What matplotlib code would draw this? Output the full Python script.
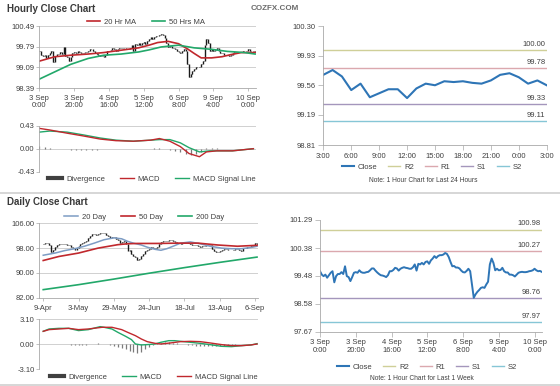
import numpy as np
import matplotlib.pyplot as plt
from matplotlib.lines import Line2D

plt.rcParams['font.family'] = ['Liberation Sans', 'DejaVu Sans']
plt.rcParams['font.size'] = 5.5

# ---------------- data ----------------
week_labels = ['3 Sep\n0:00', '3 Sep\n20:00', '4 Sep\n16:00', '5 Sep\n12:00',
               '6 Sep\n8:00', '9 Sep\n4:00', '10 Sep\n0:00']
week_close = [99.63, 99.52, 99.47, 99.52, 99.42, 99.50, 99.58, 99.63, 99.27, 99.47,
              99.54, 99.54, 99.60, 99.54, 99.79, 99.47, 99.44, 99.31, 99.44, 99.58,
              99.60, 99.58, 99.66, 99.60, 99.58, 99.58, 99.60, 99.61, 99.66, 99.72,
              99.72, 99.65, 99.59, 99.54, 99.50, 99.49, 99.47, 99.44, 99.50, 99.63,
              99.63, 99.67, 99.74, 99.72, 99.65, 99.71, 99.74, 99.76, 99.74, 99.73,
              99.71, 99.71, 99.76, 99.85, 99.65, 99.87, 99.85, 99.90, 99.85, 99.93,
              99.95, 99.87, 99.98, 100.04, 100.12, 100.06, 100.12, 100.15, 100.15, 100.17,
              100.22, 100.19, 100.09, 99.93, 99.79, 99.80, 99.75, 99.75, 99.72, 99.65,
              99.60, 99.59, 99.64, 99.71, 99.63, 99.20, 98.77, 98.88, 98.96, 99.02,
              99.09, 99.11, 99.09, 99.20, 99.29, 99.85, 100.04, 99.90, 99.66, 99.71,
              99.66, 99.67, 99.74, 99.63, 99.59, 99.59, 99.52, 99.52, 99.50, 99.46,
              99.52, 99.58, 99.60, 99.61, 99.60, 99.60, 99.61, 99.63, 99.64, 99.66,
              99.71, 99.66, 99.63, 99.64, 99.61]

ma20_x = [0, 9, 18, 28, 37, 47, 57, 63, 68, 74, 80, 85, 89, 93, 99, 105, 110, 116, 124]
ma20 = [99.30, 99.45, 99.50, 99.54, 99.59, 99.67, 99.75, 99.84, 99.93, 99.97,
        99.89, 99.72, 99.56, 99.41, 99.41, 99.45, 99.52, 99.59, 99.59]
ma50_x = [0, 9, 18, 28, 37, 47, 57, 63, 70, 80, 89, 99, 108, 118, 124]
ma50 = [98.69, 98.94, 99.19, 99.39, 99.50, 99.54, 99.61, 99.68, 99.78, 99.84,
        99.75, 99.70, 99.63, 99.59, 99.54]

hmacd_x = [0, 6, 16, 25, 35, 44, 54, 64, 69, 75, 81, 86, 92, 96, 102, 111, 123]
hmacd = [0.38, 0.35, 0.29, 0.24, 0.18, 0.15, 0.14, 0.16, 0.19, 0.14, 0.04,
         -0.09, -0.15, -0.06, -0.04, -0.04, 0.00]
hsig_x = [0, 6, 16, 25, 35, 44, 54, 64, 69, 75, 81, 86, 92, 98, 111, 123]
hsig = [0.31, 0.33, 0.31, 0.26, 0.20, 0.16, 0.14, 0.16, 0.17, 0.17, 0.11,
        0.02, -0.06, -0.04, -0.04, 0.00]
hdiv_x = list(range(0, 124, 3))
hdiv = [0.05, 0.03, 0.01, 0.00, -0.01, -0.01, -0.02, -0.02, -0.02, -0.02, -0.02,
        -0.02, -0.01, -0.01, -0.01, 0.00, 0.00, 0.00, 0.00, 0.00, 0.00, 0.00,
        0.01, 0.01, -0.01, -0.03, -0.05, -0.07, -0.09, -0.11, -0.10, -0.07,
        0.02, 0.02, 0.01, 0.00, 0.00, 0.00, 0.00, 0.00, 0.00, 0.00]

h24_labels = ['3:00', '6:00', '9:00', '12:00', '15:00', '18:00', '21:00', '0:00', '3:00']
h24_close = [99.69, 99.75, 99.67, 99.50, 99.58, 99.41, 99.46, 99.51, 99.51, 99.40,
             99.52, 99.58, 99.56, 99.61, 99.60, 99.61, 99.59, 99.58, 99.62, 99.69,
             99.71, 99.66, 99.58, 99.62, 99.56]

lvl_names = ['R2', 'R1', 'S1', 'S2']
h24_lvls = [100.00, 99.78, 99.33, 99.11]
week_lvls = [100.98, 100.27, 98.76, 97.97]

day_labels = ['9-Apr', '3-May', '29-May', '24-Jun', '18-Jul', '13-Aug', '6-Sep']
day_close = [99.3, 99.6, 99.5, 99.0, 96.9, 97.5, 98.4, 98.9, 99.3, 99.4,
             99.4, 99.3, 99.1, 98.9, 98.4, 97.9, 97.5, 98.0, 98.6, 99.3,
             99.6, 99.9, 100.2, 101.3, 101.9, 102.4, 102.5, 102.3, 102.5, 102.8,
             102.9, 102.9, 102.3, 101.8, 101.1, 101.5, 101.6, 100.9, 100.7, 99.8,
             100.0, 100.2, 99.4, 97.0, 97.5, 96.0, 95.6, 95.0, 94.3, 94.6,
             95.3, 96.2, 97.2, 97.5, 97.6, 98.2, 98.0, 97.9, 98.5, 99.4,
             100.0, 100.2, 100.3, 100.4, 100.7, 100.6, 100.3, 100.0, 99.8, 99.6,
             99.3, 99.8, 100.1, 99.9, 99.7, 99.4, 99.1, 99.1, 99.1, 98.6,
             98.3, 98.6, 98.6, 98.9, 99.1, 98.9, 97.8, 97.1, 96.9, 96.6,
             97.2, 97.5, 97.8, 97.8, 97.5, 97.5, 97.5, 97.5, 97.8, 97.6,
             97.4, 97.1, 98.0, 98.1, 98.2, 98.5, 98.8, 99.1, 99.6, 99.3]

d20_x = [0, 6, 11, 16, 21, 26, 31, 36, 40, 43, 46, 50, 53, 57, 60, 63, 67, 70, 75,
         80, 85, 91, 96, 101, 106, 109]
d20 = [95.7, 96.4, 97.2, 97.8, 98.6, 99.6, 100.7, 101.3, 101.0, 100.2, 99.6, 99.0,
       98.3, 97.6, 97.3, 97.8, 98.8, 99.6, 100.0, 99.4, 98.6, 98.0, 97.8, 97.8,
       98.2, 98.6]
d50_x = [0, 8, 18, 28, 38, 43, 48, 58, 69, 79, 89, 99, 109]
d50 = [94.0, 95.3, 96.4, 98.0, 99.1, 99.4, 99.5, 99.5, 99.6, 99.6, 99.0, 98.6, 98.9]
d200_x = [0, 18, 36, 54, 72, 90, 109]
d200 = [84.6, 86.2, 88.0, 89.9, 91.7, 93.4, 95.1]

dmacd_x = [0, 3, 8, 13, 18, 23, 29, 31, 35, 38, 42, 45, 47, 50, 53, 57, 60, 64,
           67, 70, 75, 80, 85, 91, 96, 101, 106, 109]
dmacd = [1.61, 1.90, 1.98, 1.98, 1.70, 1.82, 2.19, 2.11, 1.90, 1.49, 0.99, 0.58,
         0.04, -0.08, -0.04, 0.04, 0.25, 0.45, 0.45, 0.37, 0.25, 0.12, -0.04,
         -0.25, -0.29, -0.17, -0.08, 0.08]
dsig_x = [0, 3, 8, 13, 18, 23, 30, 35, 40, 43, 47, 50, 53, 57, 60, 65, 70, 75,
          80, 85, 91, 96, 101, 106, 109]
dsig = [1.61, 1.82, 1.90, 1.98, 1.82, 1.90, 2.11, 2.11, 1.82, 1.49, 1.07, 0.66,
        0.33, 0.12, 0.04, 0.17, 0.33, 0.37, 0.33, 0.17, -0.04, -0.17, -0.17,
        -0.08, 0.04]
ddiv_x = list(range(0, 110, 2))
ddiv = [0.0, 0.05, 0.07, 0.07, 0.05, 0.02, 0.0, -0.05, -0.1, -0.12, -0.1, -0.05,
        0.0, 0.05, 0.1, 0.08, 0.05, -0.1, -0.2, -0.35, -0.5, -0.6, -0.8, -0.95,
        -1.05, -0.9, -0.6, -0.35, -0.1, 0.1, 0.2, 0.25, 0.25, 0.22, 0.15, 0.05,
        0.0, -0.05, -0.1, -0.15, -0.2, -0.2, -0.2, -0.2, -0.2, -0.2, -0.15,
        -0.12, -0.1, -0.05, 0.0, 0.0, 0.0, 0.05, 0.05]

# ---------------- style ----------------
RED = '#c0282d'
GREEN = '#22a86a'
BLUE20 = '#7d9cc4'
CLOSE = '#2e75b6'
LVL_COL = ['#cfcf98', '#dba8ae', '#a496bc', '#86c6d6']
SPINE = '#a8a8a8'
GRID = '#c9c9c9'
TXT = '#404040'

W, H = 560, 386
fig = plt.figure(figsize=(W / 100, H / 100), dpi=100)


def rect(x0, y0, x1, y1):
    return [x0 / W, 1 - y1 / H, (x1 - x0) / W, (y1 - y0) / H]


def fpos(x, y):
    return (x / W, 1 - y / H)


def style(ax, grid=True):
    for s in ['top', 'right']:
        ax.spines[s].set_visible(False)
    for s in ['left', 'bottom']:
        ax.spines[s].set_color(SPINE)
        ax.spines[s].set_linewidth(0.6)
    if grid:
        ax.yaxis.grid(True, color=GRID, lw=0.6)
        ax.set_axisbelow(True)
    ax.tick_params(colors=SPINE, labelcolor=TXT, labelsize=5.5, length=2,
                   width=0.5, pad=1.5)


def bars(ax, x, c, color='#1a1a1a'):
    # open = previous close, so each bar spans prev close -> close
    c = np.asarray(c)
    prev = np.concatenate([[c[0]], c[:-1]])
    ax.vlines(x, np.minimum(prev, c), np.maximum(prev, c), color=color, lw=1.0)
    ax.hlines(c, x, np.asarray(x) + 0.45, color=color, lw=0.5)


def legend(ax, handles, labels, x, y, hl=1.8, cs=2.0):
    ax.legend(handles, labels, loc='center', bbox_to_anchor=fpos(x, y),
              bbox_transform=fig.transFigure, ncol=len(labels), frameon=False,
              handlelength=hl, columnspacing=cs, handletextpad=0.5,
              borderpad=0, fontsize=5.5, labelcolor=TXT)


# ---------------- hourly price (top left) ----------------
ax_hp = fig.add_axes(rect(39.3, 26, 256, 88))
style(ax_hp)
wx = np.arange(len(week_close))
bars(ax_hp, wx, week_close)
ax_hp.plot(ma20_x, ma20, color=RED, lw=1.2)
ax_hp.plot(ma50_x, ma50, color=GREEN, lw=1.2)
ax_hp.set_xlim(0, 124.5)
ax_hp.set_ylim(98.39, 100.49)
ax_hp.set_yticks([98.39, 99.09, 99.79, 100.49])
ax_hp.set_yticklabels(['98.39', '99.09', '99.79', '100.49'])
ax_hp.set_xticks(range(0, 121, 20))
ax_hp.set_xticklabels(week_labels, linespacing=1.1)
ax_hp.tick_params(axis='x', pad=3)
legend(ax_hp, [Line2D([], [], color=RED, lw=1.2), Line2D([], [], color=GREEN, lw=1.2)],
       ['20 Hr MA', '50 Hrs MA'], 146, 22)

# ---------------- hourly MACD ----------------
ax_hm = fig.add_axes(rect(39.3, 125.7, 256, 171.7))
style(ax_hm)
ax_hm.spines['bottom'].set_visible(False)
ax_hm.vlines(hdiv_x, 0, hdiv, color='#7a7a7a', lw=0.9)
ax_hm.plot(hsig_x, hsig, color=GREEN, lw=1.0)
ax_hm.plot(hmacd_x, hmacd, color=RED, lw=1.0)
ax_hm.set_xlim(0, 124.5)
ax_hm.set_ylim(-0.43, 0.43)
ax_hm.set_yticks([-0.43, 0, 0.43])
ax_hm.set_yticklabels(['-0.43', '0.00', '0.43'])
ax_hm.set_xticks([])
legend(ax_hm, [Line2D([], [], color='#404040', lw=3), Line2D([], [], color=RED, lw=1),
               Line2D([], [], color=GREEN, lw=1)],
       ['Divergence', 'MACD', 'MACD Signal Line'], 152, 179)

# ---------------- last 24 hours (top right) ----------------
ax_24 = fig.add_axes(rect(323.3, 26, 546.7, 145.3))
style(ax_24, grid=False)
ax_24.tick_params(length=3.5, pad=2)
lvl_h = []
for name, v, col in zip(lvl_names, h24_lvls, LVL_COL):
    ax_24.axhline(v, color=col, lw=1.0)
    ax_24.annotate('%.2f' % v, (24, v), xytext=(-1, 1.5), textcoords='offset points',
                   ha='right', va='bottom', fontsize=5.5, color=TXT)
    lvl_h.append(Line2D([], [], color=col, lw=1.0))
ax_24.plot(np.arange(len(h24_close)), h24_close, color=CLOSE, lw=1.5)
ax_24.set_xlim(0, 24)
ax_24.set_ylim(98.81, 100.30)
ax_24.set_yticks([98.81, 99.19, 99.56, 99.93, 100.30])
ax_24.set_yticklabels(['98.81', '99.19', '99.56', '99.93', '100.30'])
ax_24.set_xticks(range(0, 25, 3))
ax_24.set_xticklabels(h24_labels)
legend(ax_24, [Line2D([], [], color=CLOSE, lw=1.5)] + lvl_h, ['Close'] + lvl_names,
       432, 167, hl=1.6, cs=1.4)
fig.text(*fpos(423, 180), 'Note: 1 Hour Chart for Last 24 Hours', ha='center',
         va='center', fontsize=4.8, color=TXT)

# ---------------- daily price ----------------
ax_dp = fig.add_axes(rect(39.3, 223.3, 258, 297.7))
style(ax_dp)
dx = np.arange(len(day_close))
bars(ax_dp, dx, day_close)
ax_dp.plot(d20_x, d20, color=BLUE20, lw=1.1)
ax_dp.plot(d50_x, d50, color=RED, lw=1.2)
ax_dp.plot(d200_x, d200, color=GREEN, lw=1.2)
ax_dp.set_xlim(-2, 109.5)
ax_dp.set_ylim(82, 106)
ax_dp.set_yticks([82, 90, 98, 106])
ax_dp.set_yticklabels(['82.00', '90.00', '98.00', '106.00'])
ax_dp.set_xticks(range(0, 109, 18))
ax_dp.set_xticklabels(day_labels)
ax_dp.tick_params(axis='x', pad=3)
legend(ax_dp, [Line2D([], [], color=BLUE20, lw=1.1), Line2D([], [], color=RED, lw=1.2),
               Line2D([], [], color=GREEN, lw=1.2)],
       ['20 Day', '50 Day', '200 Day'], 144, 217)

# ---------------- daily MACD ----------------
ax_dm = fig.add_axes(rect(39.3, 319.3, 258, 369.3))
style(ax_dm)
ax_dm.spines['bottom'].set_visible(False)
ax_dm.vlines(ddiv_x, 0, ddiv, color='#7a7a7a', lw=0.9)
ax_dm.plot(dmacd_x, dmacd, color=GREEN, lw=1.0)
ax_dm.plot(dsig_x, dsig, color=RED, lw=1.0)
ax_dm.set_xlim(-2, 109.5)
ax_dm.set_ylim(-3.10, 3.10)
ax_dm.set_yticks([-3.10, 0, 3.10])
ax_dm.set_yticklabels(['-3.10', '0.00', '3.10'])
ax_dm.set_xticks([])
legend(ax_dm, [Line2D([], [], color='#404040', lw=3), Line2D([], [], color=GREEN, lw=1),
               Line2D([], [], color=RED, lw=1)],
       ['Divergence', 'MACD', 'MACD Signal Line'], 154, 377)

# ---------------- last week (bottom right) ----------------
ax_wk = fig.add_axes(rect(320, 220, 541.7, 331.7))
style(ax_wk, grid=False)
ax_wk.tick_params(length=3.5, pad=2)
lvl_h = []
for name, v, col in zip(lvl_names, week_lvls, LVL_COL):
    ax_wk.axhline(v, color=col, lw=1.0)
    ax_wk.annotate('%.2f' % v, (124, v), xytext=(-1, 1.5), textcoords='offset points',
                   ha='right', va='bottom', fontsize=5.5, color=TXT)
    lvl_h.append(Line2D([], [], color=col, lw=1.0))
ax_wk.plot(wx, week_close, color=CLOSE, lw=1.4)
ax_wk.set_xlim(0, 124)
ax_wk.set_ylim(97.67, 101.29)
ax_wk.set_yticks([97.67, 98.58, 99.48, 100.38, 101.29])
ax_wk.set_yticklabels(['97.67', '98.58', '99.48', '100.38', '101.29'])
ax_wk.set_xticks(range(0, 121, 20))
ax_wk.set_xticklabels(week_labels, linespacing=1.1)
legend(ax_wk, [Line2D([], [], color=CLOSE, lw=1.5)] + lvl_h, ['Close'] + lvl_names,
       427, 367, hl=1.6, cs=1.4)
fig.text(*fpos(422, 379), 'Note: 1 Hour Chart for Last 1 Week', ha='center',
         va='center', fontsize=4.8, color=TXT)

# ---------------- headers / separators ----------------
fig.text(*fpos(7, 9), 'Hourly Close Chart', fontweight='bold', fontsize=7,
         va='center', color='#3a3a3a')
fig.text(*fpos(251, 8), 'COZFX.COM', fontweight='bold', fontsize=5.8,
         va='center', color='#6a6a6a')
fig.text(*fpos(7, 202), 'Daily Close Chart', fontweight='bold', fontsize=7,
         va='center', color='#3a3a3a')
for yy in [193, 385]:
    fig.add_artist(Line2D([0, 1], [1 - yy / H] * 2, color='#cfcfcf', lw=1.2,
                          transform=fig.transFigure))

fig.savefig('out.png', dpi=100)
